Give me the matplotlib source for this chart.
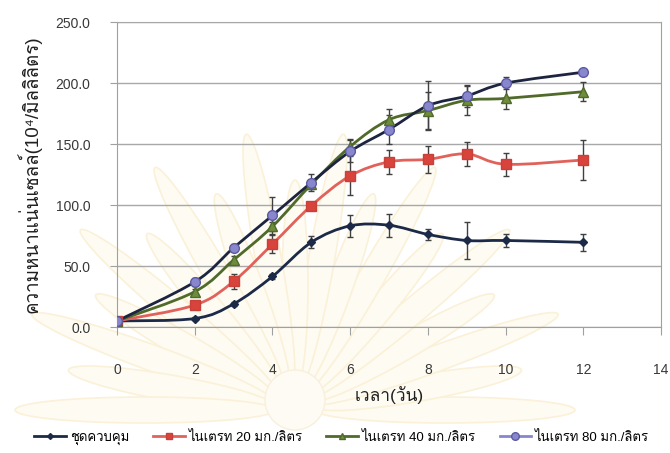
import math
import matplotlib
matplotlib.use('Agg')
import matplotlib.pyplot as plt
from matplotlib import font_manager
from matplotlib.ft2font import FT2Font
from matplotlib.path import Path
from matplotlib.patches import PathPatch, Ellipse, Circle
from matplotlib.lines import Line2D


def thai_family():
    # find an installed family that has Thai glyphs
    for f in font_manager.fontManager.ttflist:
        try:
            if 0x0E01 in FT2Font(f.fname).get_charmap():
                return f.name
        except Exception:
            pass
    return 'DejaVu Sans'


THAI = thai_family()
plt.rcParams['font.family'] = ['Liberation Sans', THAI, 'DejaVu Sans']

days = [0, 2, 3, 4, 5, 6, 7, 8, 9, 10, 12]

control = [5, 7, 19, 41.5, 69.5, 83, 83.5, 76, 71, 71, 69.5]
control_err = [1, 1, 1.5, 2, 5, 9, 9.5, 4.5, 15.5, 5.5, 7]

nitrate20 = [5, 18, 37.5, 68, 99.5, 124, 135.5, 137.5, 142, 133.5, 137]
nitrate20_err = [1, 2, 6, 7.5, 2, 16, 10, 11, 10, 9.5, 16]

nitrate40 = [5, 29, 55, 82.5, 117, 148, 170, 177.5, 186, 187.5, 193]
nitrate40_err = [1, 2, 3, 4, 4, 6, 9, 15, 12, 9, 8]

nitrate80 = [5, 37, 65, 91.5, 118.5, 144, 162, 181.5, 189.5, 200, 209]
nitrate80_err = [1, 3, 3, 15, 7, 9, 12, 20, 9, 5, 2]

labels = ['ชุดควบคุม', 'ไนเตรท 20 มก./ลิตร', 'ไนเตรท 40 มก./ลิตร', 'ไนเตรท 80 มก./ลิตร']

series = [
    (control, control_err, '#1c2a48', 'D', '#1c2a48', '#1c2a48', 4.5, '#1c2a48'),
    (nitrate20, nitrate20_err, '#e0625a', 's', '#d8433c', '#c8403a', 6.5, '#e0625a'),
    (nitrate40, nitrate40_err, '#4f6a2a', '^', '#6f8c3c', '#4f6a2a', 6.5, '#6f8c3c'),
    (nitrate80, nitrate80_err, '#1c2440', 'o', '#8886cc', '#5c5aa0', 7, '#8886cc'),
]


def smooth_path(xs, ys):
    # Catmull-Rom segments written as cubic Bezier curves
    pts = list(zip(xs, ys))
    verts = [pts[0]]
    codes = [Path.MOVETO]
    n = len(pts)
    for i in range(n - 1):
        p0 = pts[i - 1] if i > 0 else pts[i]
        p1 = pts[i]
        p2 = pts[i + 1]
        p3 = pts[i + 2] if i + 2 < n else pts[i + 1]
        c1 = (p1[0] + (p2[0] - p0[0]) / 6, p1[1] + (p2[1] - p0[1]) / 6)
        c2 = (p2[0] - (p3[0] - p1[0]) / 6, p2[1] - (p3[1] - p1[1]) / 6)
        verts += [c1, c2, p2]
        codes += [Path.CURVE4] * 3
    return Path(verts, codes)


fig = plt.figure(figsize=(6.7, 4.53), dpi=100)

# pale sunburst emblem in the page background (pixel coordinates)
cx, cy = 295, 43
for k in range(19):
    ang = 10 * k
    r = 150 if k % 2 == 0 else 125
    rad = math.radians(ang)
    ex = cx + r * math.cos(rad)
    ey = cy + r * math.sin(rad)
    fig.patches.append(Ellipse((ex, ey), 2 * r - 40, 26, angle=ang,
                               transform=None, facecolor='#fefbf2',
                               edgecolor='#fbf1d8', linewidth=1.2, zorder=-5))
fig.patches.append(Circle((cx, cy + 10), 30, transform=None,
                          facecolor='#fdfbf4', edgecolor='#f8f0dc', zorder=-5))

ax = fig.add_axes([0.1746, 0.278, 0.812, 0.673])
ax.patch.set_alpha(0)

ax.set_xlim(0, 14)
ax.set_ylim(0, 250)
ax.set_xticks(range(0, 15, 2))
ax.set_yticks(range(0, 251, 50))
ax.set_yticklabels(['%.1f' % v for v in range(0, 251, 50)])
ax.yaxis.grid(True, color='#a8a8a8', linewidth=1)
ax.set_axisbelow(True)

for s in ['left', 'right', 'bottom']:
    ax.spines[s].set_color('#a0a0a0')
ax.spines['top'].set_color('#a8a8a8')

ax.tick_params(axis='x', direction='out', length=6, color='#a0a0a0',
               pad=20, labelsize=10, labelcolor='#383838')
ax.tick_params(axis='y', direction='out', length=5, color='#a0a0a0',
               pad=14, labelsize=10, labelcolor='#383838')

handles = []
for (vals, errs, lc, mk, mfc, mec, ms, legc), lab in zip(series, labels):
    ax.add_patch(PathPatch(smooth_path(days, vals), facecolor='none',
                           edgecolor=lc, linewidth=2, zorder=3))
    ax.errorbar(days, vals, yerr=errs, fmt='none', ecolor='#404040',
                elinewidth=1, capsize=2.5, capthick=1, zorder=2)
    ax.plot(days, vals, linestyle='none', marker=mk, markersize=ms,
            markerfacecolor=mfc, markeredgecolor=mec, zorder=4)
    handles.append(Line2D([], [], color=legc if mk == 'o' else lc, linewidth=2,
                          marker=mk, markersize=ms - 1.5,
                          markerfacecolor=mfc, markeredgecolor=mec))

ax.set_xlabel('เวลา(วัน)', fontsize=12.5, color='#202020', labelpad=6)
ax.set_ylabel('ความหนาแน่นเซลล์(10⁴/มิลลิลิตร)', fontsize=13.5, color='#202020',
              labelpad=10)

fig.legend(handles, labels, loc='center', bbox_to_anchor=(0.51, 0.033),
           ncol=4, frameon=False, fontsize=9.5, handlelength=2.4,
           handletextpad=0.3, columnspacing=1.8)

fig.savefig('out.png', dpi=100)
